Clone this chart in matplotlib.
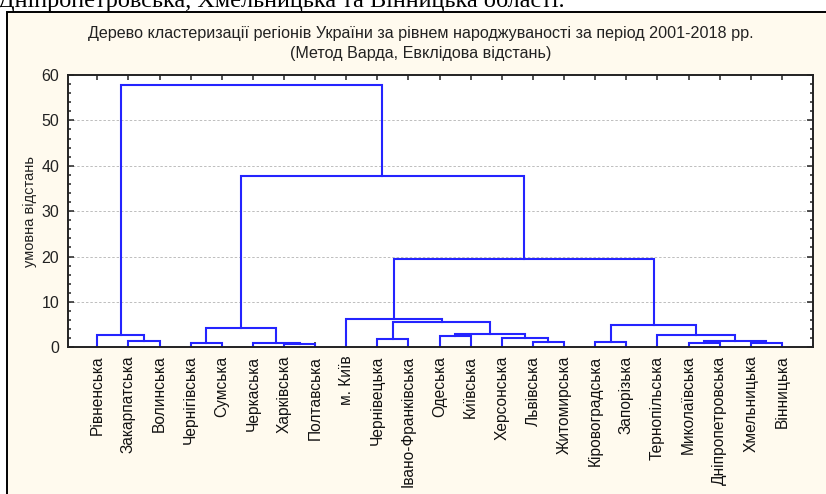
import matplotlib.pyplot as plt
from matplotlib.patches import Rectangle
from matplotlib.ticker import MultipleLocator

plt.rcParams['font.family'] = ['Liberation Sans', 'DejaVu Sans']

# leaves in the order shown on the x axis
regions = ['Рівненська', 'Закарпатська', 'Волинська', 'Чернігівська', 'Сумська',
           'Черкаська', 'Харківська', 'Полтавська', 'м. Київ', 'Чернівецька',
           'Івано-Франківська', 'Одеська', 'Київська', 'Херсонська', 'Львівська',
           'Житомирська', 'Кіровоградська', 'Запорізька', 'Тернопільська',
           'Миколаївська', 'Дніпропетровська', 'Хмельницька', 'Вінницька']

# merges: node ids 0..22 are leaves, merge k becomes node 23+k
merge_left = [6, 3, 5, 19, 21, 14, 16, 1, 26, 9, 13, 11, 0, 18, 34, 24, 29, 32, 8, 41, 38, 35]
merge_right = [7, 4, 23, 20, 22, 15, 17, 2, 27, 10, 28, 12, 30, 31, 33, 25, 36, 37, 40, 39, 42, 43]
merge_height = [0.66, 0.88, 0.90, 0.95, 0.95, 1.24, 1.24, 1.47, 1.47, 1.84, 2.06, 2.43,
                2.79, 2.79, 3.0, 4.2, 4.86, 5.66, 6.26, 19.35, 37.7, 57.8]

fig = plt.figure(figsize=(8.26, 4.94), dpi=100)
fig.patch.set_facecolor('white')

# text of the document above the chart (cut off at the top)
fig.text(-0.002, 1 - 7.5 / 494, 'Дніпропетровська, Хмельницька та Вінницька області.',
         family=['Liberation Serif', 'DejaVu Serif'], fontsize=17.5, va='baseline', ha='left')

# chart frame
frame = Rectangle((7 / 826, -0.1), 1.2, 1 - 12 / 494 + 0.1, transform=fig.transFigure,
                  facecolor='#FFFAEE', edgecolor='black', linewidth=1.4, zorder=-1)
fig.patches.append(frame)

fig.text(421 / 826, 1 - 38 / 494,
         'Дерево кластеризації регіонів України за рівнем народжуваності за період 2001-2018 рр.',
         ha='center', va='baseline', fontsize=11.6, color='#222222')
fig.text(421 / 826, 1 - 58 / 494, '(Метод Варда, Евклідова відстань)',
         ha='center', va='baseline', fontsize=11.6, color='#222222')

ax = fig.add_axes([67.7 / 826, 1 - 347.3 / 494, (813 - 67.7) / 826, (347.3 - 75) / 494])
ax.set_facecolor('white')
ax.set_zorder(1)

n = len(regions)
xpos = {i: i + 1 for i in range(n)}
ypos = {i: 0.0 for i in range(n)}
for k, (a, b, h) in enumerate(zip(merge_left, merge_right, merge_height)):
    node = n + k
    ax.plot([xpos[a], xpos[a], xpos[b], xpos[b]], [ypos[a], h, h, ypos[b]],
            color='#2424FF', linewidth=1.5, solid_joinstyle='miter', zorder=2)
    xpos[node] = (xpos[a] + xpos[b]) / 2
    ypos[node] = h

ax.set_xlim(0.05, n + 1)
ax.set_ylim(0, 60)
ax.set_xticks(range(1, n + 1))
ax.set_xticklabels(regions, rotation=90, fontsize=11.2, va='top', color='#111111')
ax.yaxis.set_major_locator(MultipleLocator(10))
ax.yaxis.set_minor_locator(MultipleLocator(2))
ax.tick_params(axis='both', which='both', direction='in', top=True, right=True, width=1.1,
               color='#222222')
ax.tick_params(axis='y', which='major', length=4, labelsize=11.5, pad=6, labelcolor='#222222')
ax.tick_params(axis='y', which='minor', length=2.5)
ax.tick_params(axis='x', length=3.5, pad=6)
ax.set_ylabel('умовна відстань', fontsize=10.5, labelpad=3, color='#222222')

for v in range(10, 60, 10):
    ax.axhline(v, color='#bdbdbd', linewidth=0.7, linestyle=(0, (2.5, 2)), zorder=1)

for s in ax.spines.values():
    s.set_linewidth(1.4)
    s.set_color('#222222')

fig.savefig('out.png', dpi=100, facecolor=fig.get_facecolor())
